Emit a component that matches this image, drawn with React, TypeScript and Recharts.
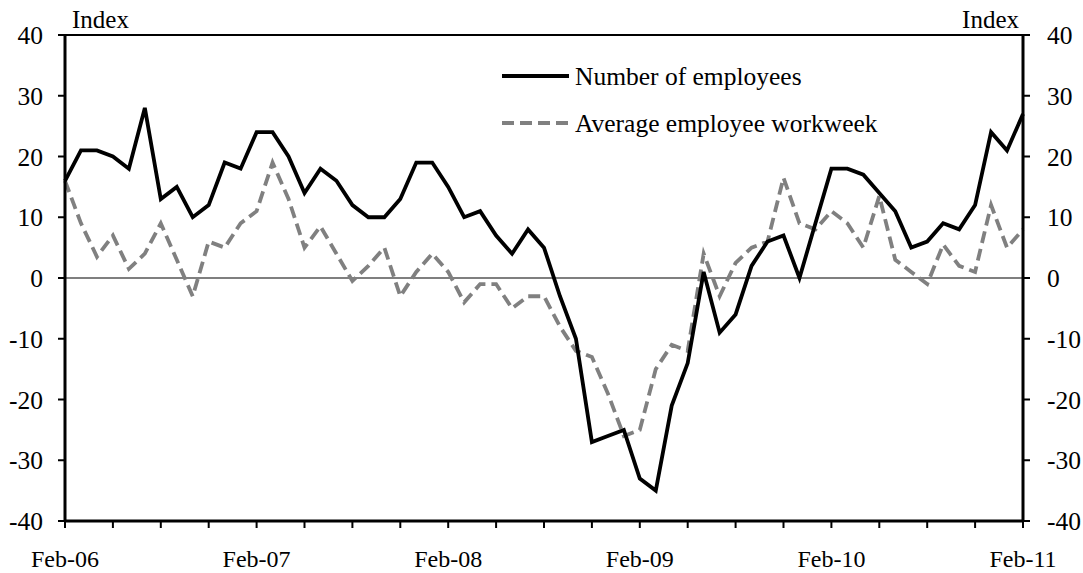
import React from "react";
import { LineChart, Line, XAxis, YAxis, ReferenceLine } from "recharts";

const months = [
  "Feb-06","Mar-06","Apr-06","May-06","Jun-06","Jul-06","Aug-06","Sep-06","Oct-06","Nov-06","Dec-06",
  "Jan-07","Feb-07","Mar-07","Apr-07","May-07","Jun-07","Jul-07","Aug-07","Sep-07","Oct-07","Nov-07","Dec-07",
  "Jan-08","Feb-08","Mar-08","Apr-08","May-08","Jun-08","Jul-08","Aug-08","Sep-08","Oct-08","Nov-08","Dec-08",
  "Jan-09","Feb-09","Mar-09","Apr-09","May-09","Jun-09","Jul-09","Aug-09","Sep-09","Oct-09","Nov-09","Dec-09",
  "Jan-10","Feb-10","Mar-10","Apr-10","May-10","Jun-10","Jul-10","Aug-10","Sep-10","Oct-10","Nov-10","Dec-10",
  "Jan-11","Feb-11",
];

const employees = [
  16, 21, 21, 20, 18, 28, 13, 15, 10, 12, 19,
  18, 24, 24, 20, 14, 18, 16, 12, 10, 10, 13, 19,
  19, 15, 10, 11, 7, 4, 8, 5, -3, -10, -27, -26,
  -25, -33, -35, -21, -14, 1, -9, -6, 2, 6, 7, 0,
  9, 18, 18, 17, 14, 11, 5, 6, 9, 8, 12, 24,
  21, 27,
];

const workweek = [
  16, 9, 3.5, 7, 1.5, 4, 9, 3, -3, 6, 5,
  9, 11, 19, 13, 5, 8.5, 4, -0.5, 2, 5, -3, 1,
  4, 1, -4, -1, -1, -5, -3, -3, -8, -12, -13, -19,
  -26, -25, -15, -11, -12, 4, -3, 2.5, 5, 6, 16.5, 9,
  8, 11, 9, 5, 13.5, 3, 1, -1, 5.5, 2, 1, 12,
  5, 8,
];

const yTicks = [-40, -30, -20, -10, 0, 10, 20, 30, 40];
const seriesNames = ["Number of employees", "Average employee workweek"];

const data = months.map((m, i) => ({ m, emp: employees[i], ww: workweek[i] }));

const FONT = "Liberation Serif";
const xTickStyle = { fontFamily: FONT, fontSize: 24, fill: "#000" };
const yTickStyle = { fontFamily: FONT, fontSize: 25.5, fill: "#000" };

export default function App() {
  return (
    <div style={{ position: "absolute", left: 0, top: 0, width: 1083, height: 573, background: "#fff" }}>
      <LineChart
        width={1083}
        height={573}
        data={data}
        margin={{ top: 35, right: 3, bottom: 22, left: 8 }}
      >
        <XAxis
          dataKey="m"
          interval={2}
          tickFormatter={(v: string) => (v.startsWith("Feb") ? v : "")}
          tick={xTickStyle}
          tickSize={7}
          tickMargin={22}
          height={30}
          axisLine={{ stroke: "#000", strokeWidth: 3 }}
          tickLine={{ stroke: "#000", strokeWidth: 2 }}
        />
        <YAxis
          yAxisId="left"
          domain={[-40, 40]}
          ticks={yTicks}
          interval={0}
          allowDataOverflow
          width={57}
          tick={yTickStyle}
          tickSize={7}
          tickMargin={15}
          axisLine={{ stroke: "#000", strokeWidth: 3 }}
          tickLine={{ stroke: "#000", strokeWidth: 2 }}
        />
        <YAxis
          yAxisId="right"
          orientation="right"
          domain={[-40, 40]}
          ticks={yTicks}
          interval={0}
          allowDataOverflow
          width={57}
          tick={{ ...yTickStyle, textAnchor: "start" }}
          tickSize={7}
          tickMargin={17}
          axisLine={{ stroke: "#000", strokeWidth: 3 }}
          tickLine={{ stroke: "#000", strokeWidth: 2 }}
        />
        <ReferenceLine yAxisId="left" y={40} stroke="#000" strokeWidth={2} />
        <ReferenceLine yAxisId="left" y={0} stroke="#000" strokeWidth={1.2} />
        <Line
          yAxisId="right"
          type="linear"
          dataKey="ww"
          stroke="#808080"
          strokeWidth={3.8}
          strokeDasharray="12 6"
          dot={false}
          activeDot={false}
          isAnimationActive={false}
        />
        <Line
          yAxisId="left"
          type="linear"
          dataKey="emp"
          stroke="#000"
          strokeWidth={3.8}
          dot={false}
          activeDot={false}
          isAnimationActive={false}
        />
      </LineChart>
      <svg width={440} height={100} style={{ position: "absolute", left: 500, top: 50 }}>
        <line x1={2} y1={26} x2={69} y2={26} stroke="#000" strokeWidth={3.8} />
        <text x={75} y={35} style={{ fontFamily: FONT, fontSize: 25.5 }} fill="#000">{seriesNames[0]}</text>
        <line x1={2} y1={73} x2={69} y2={73} stroke="#808080" strokeWidth={3.8} strokeDasharray="12 6" />
        <text x={75} y={82} style={{ fontFamily: FONT, fontSize: 25.5 }} fill="#000">{seriesNames[1]}</text>
      </svg>
      <div style={{ position: "absolute", left: 72, top: 5, fontFamily: FONT, fontSize: 25, lineHeight: "30px", color: "#000" }}>Index</div>
      <div style={{ position: "absolute", right: 1083 - 1019, top: 5, fontFamily: FONT, fontSize: 25, lineHeight: "30px", color: "#000" }}>Index</div>
    </div>
  );
}
